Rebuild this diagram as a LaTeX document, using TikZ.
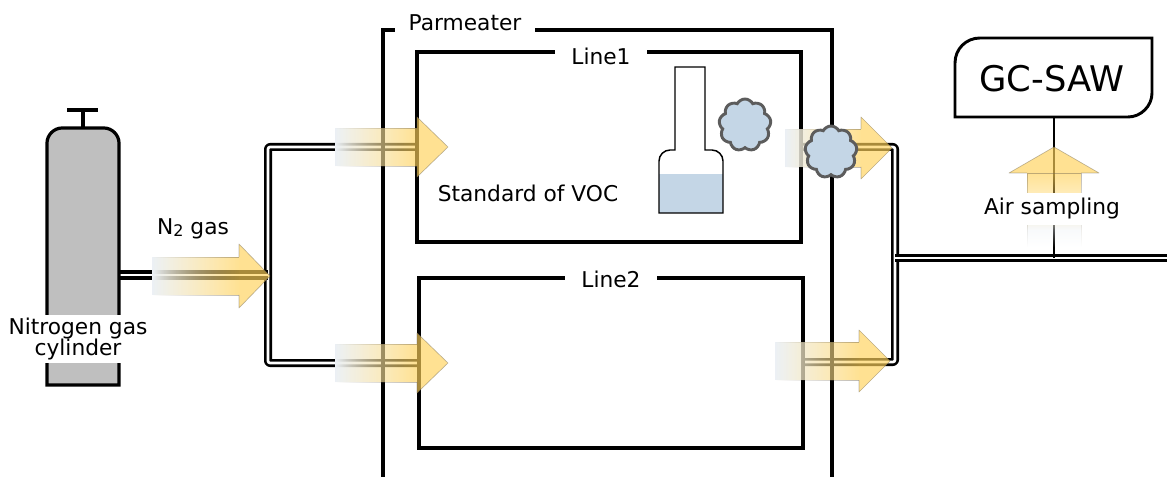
\documentclass[tikz,border=0pt]{standalone}
\usepackage{fontspec}
\setmainfont{DejaVu Sans}
\usetikzlibrary{shapes.symbols,fadings}

\definecolor{gasyellow}{RGB}{255,210,90}
\definecolor{gasedge}{RGB}{110,100,80}
\definecolor{gasmist}{RGB}{236,241,246}
\definecolor{tankgray}{RGB}{191,191,191}
\definecolor{vapour}{RGB}{196,214,230}
\definecolor{vapouredge}{RGB}{92,92,92}

% flow fadings (tail -> tip)
\tikzfading[name=gasin, left color=transparent!100, middle color=transparent!55, right color=transparent!0]
\tikzfading[name=gasout, left color=transparent!0, middle color=transparent!85, right color=transparent!100]
\tikzfading[name=gasup, bottom color=transparent!100, middle color=transparent!50, top color=transparent!0]
\tikzfading[name=gasupout, bottom color=transparent!100, middle color=transparent!20, top color=transparent!0]

\tikzset{
  gasfill/.style={fill=gasyellow, fill opacity=.66},
  gasline/.style={draw=gasedge, draw opacity=.45, line width=.5pt, line join=round}}

% right-pointing flow arrow: tip x, tip y, length, body half width, head half width
\newcommand{\flowarrow}[5]{%
  \fill[gasmist, path fading=gasout] (#1-#3,#2-#4) rectangle (#1-31,#2+#4);
  \path[gasfill, gasline, path fading=gasin]
    (#1-31,#2-#4) -- (#1-#3,#2-#4) -- (#1-#3,#2+#4) -- (#1-31,#2+#4);
  \fill[gasfill] (#1,#2) -- (#1-31,#2-#5) -- (#1-31,#2+#5) -- cycle;
  \draw[gasline] (#1-31,#2-#4) -- (#1-31,#2-#5) -- (#1,#2) -- (#1-31,#2+#5) -- (#1-31,#2+#4);}

\begin{document}
\begin{tikzpicture}[x=0.75pt, y=-0.75pt,
    font=\fontsize{16.3pt}{17pt}\selectfont,
    pipe/.style={draw=black, line width=2pt, double=white, double distance=2pt, line join=round, rounded corners=1.5pt},
    box/.style={draw=black, line width=2.8pt},
    boxlabel/.style={fill=white, inner xsep=12pt, inner ysep=2.5pt, anchor=base},
    vapourcloud/.style={cloud, cloud puffs=9, cloud puff arc=125, aspect=1, inner sep=0pt,
      fill=vapour, draw=vapouredge, line width=2.2pt, minimum width=39pt, minimum height=39pt}]
  \useasboundingbox (0,0) rectangle (1167,477);

  % pipe end points
  \coordinate (tankout) at (119,275);
  \coordinate (split) at (268,275);
  \coordinate (splitup) at (268,147);
  \coordinate (splitdown) at (268,363);
  \coordinate (line1in) at (417,147);
  \coordinate (line2in) at (419,363);
  \coordinate (line1out) at (801,147);
  \coordinate (line2out) at (803,362);
  \coordinate (mergeup) at (895,147);
  \coordinate (mergedown) at (895,362);
  \coordinate (merge) at (895,258);
  \coordinate (outlet) at (1170,258);
  \coordinate (tap) at (1054,258);

  % piping
  \draw[pipe] (line1in) -- (splitup) -- (splitdown) -- (line2in);
  \draw[pipe, line width=3pt, double distance=2.2pt] (tankout) -- (split);
  \draw[pipe] (line1out) -- (mergeup) -- (mergedown) -- (line2out);
  \draw[pipe] (merge) -- (outlet);

  % preheater and its two lines
  \draw[box] (383,480) -- (383,30) -- (832,30) -- (832,480);
  \node[boxlabel, inner xsep=10pt] (parmeater) at (465,31) {Parmeater};
  \draw[box] (417,52) rectangle (801,242);
  \node[boxlabel, inner xsep=12pt] (line1) at (601,65) {Line1};
  \draw[box] (419,278) rectangle (803,448);
  \node[boxlabel, inner xsep=12pt] (line2) at (611,288) {Line2};
  \node[anchor=base] (voc) at (528,202) {Standard of VOC};

  % standard bottle
  \fill[vapour] (659,174) rectangle (723,213);
  \draw[line width=1.1pt] (659,213) -- (659,161) .. controls (659,155) and (664,150) .. (670,150) -- (675,150)
    -- (675,67) -- (705,67) -- (705,150) -- (712,150) .. controls (718,150) and (723,155) .. (723,161)
    -- (723,213) -- cycle;

  % nitrogen cylinder
  \draw[line width=2.4pt] (83,128) -- (83,110) (67,110) -- (98,110);
  \filldraw[fill=tankgray, line width=2.4pt] (47,385) -- (47,143) .. controls (47,135) and (54,128) .. (62,128)
    -- (104,128) .. controls (112,128) and (119,135) .. (119,143) -- (119,385) -- cycle;
  \node[fill=white, align=center, inner sep=2pt, font=\fontsize{16.3pt}{16pt}\selectfont] (tank) at (78,339)
    {Nitrogen gas\\cylinder};

  % analyser
  \draw[line width=2.2pt] (955,117) -- (955,63) .. controls (955,49) and (966,38) .. (980,38) -- (1152,38)
    -- (1152,93) .. controls (1152,106) and (1141,117) .. (1128,117) -- cycle;
  \node[anchor=base, font=\fontsize{26.5pt}{28pt}\selectfont] (gcsaw) at (1052,92) {GC-SAW};
  \coordinate (gcin) at (1054,117);
  \draw[line width=1.6pt] (gcin) -- (tap);

  % gas flows
  \flowarrow{270}{276}{118}{19}{32}
  \flowarrow{448}{147}{113}{19}{30}
  \flowarrow{448}{363}{113}{19}{30}
  \flowarrow{892}{148}{107}{19}{31}
  \flowarrow{890}{361}{115}{19}{31}
  % sampled air rising to the analyser
  \path[fill=gasmist, draw=gasedge, draw opacity=.3, line width=.5pt, path fading=gasupout]
    (1027,247) -- (1027,200) -- (1081,200) -- (1081,247);
  \path[gasfill, gasline, path fading=gasup]
    (1027,230) -- (1027,173) -- (1081,173) -- (1081,230);
  \fill[gasfill] (1054,147) -- (1099,173) -- (1009,173) -- cycle;
  \draw[gasline] (1081,173) -- (1099,173) -- (1054,147) -- (1009,173) -- (1027,173);

  % vapour
  \node[vapourcloud] (vapour1) at (745,125) {};
  \node[vapourcloud] (vapour2) at (831,152) {};

  % flow labels
  \node[anchor=base] (n2) at (193,235) {N\raisebox{-1pt}{\fontsize{12pt}{12pt}\selectfont 2} gas};
  \node[anchor=base, fill=white, inner xsep=1pt, inner ysep=4pt] (air) at (1052,215) {Air sampling};
\end{tikzpicture}
\end{document}
